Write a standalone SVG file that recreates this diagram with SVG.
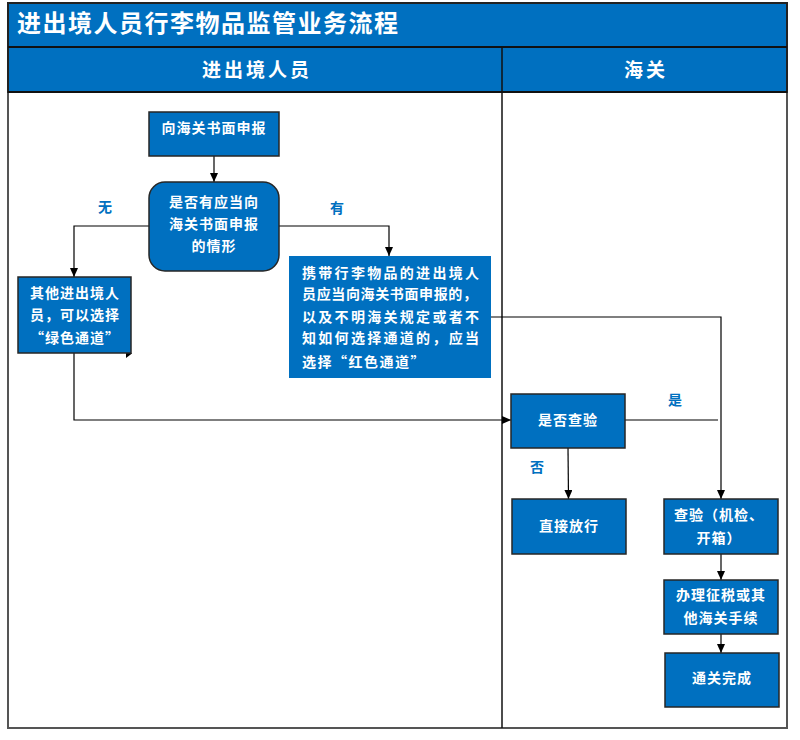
<svg xmlns="http://www.w3.org/2000/svg" width="800" height="740" viewBox="0 0 800 740">
<style>
.box{fill:#0070C0;stroke:#262626;stroke-width:1.5}
.nob{fill:#0070C0;stroke:none}
.t{font-family:"Noto Sans CJK SC","Noto Sans",sans-serif;font-weight:bold;fill:#ffffff;font-size:14px;text-anchor:middle;letter-spacing:1px}
.tl{font-family:"Noto Sans CJK SC","Noto Sans",sans-serif;font-weight:bold;fill:#ffffff;font-size:14px}
.lab{font-family:"Noto Sans CJK SC","Noto Sans",sans-serif;font-weight:bold;fill:#0070C0;font-size:14px;text-anchor:middle}
.ln{fill:none;stroke:#000000;stroke-width:1.2}
.hd{font-family:"Noto Sans CJK SC","Noto Sans",sans-serif;font-weight:bold;fill:#ffffff;font-size:19px;text-anchor:middle;letter-spacing:3px}
</style>
<defs>
<marker id="arr" markerUnits="userSpaceOnUse" markerWidth="10" markerHeight="8" refX="9" refY="4" orient="auto">
<path d="M0,0 L9,4 L0,8 Z" fill="#000000"/>
</marker>
</defs>
<rect x="0" y="0" width="800" height="740" fill="#ffffff"/>
<g id="frame">
<rect x="8" y="3" width="779" height="725" fill="#ffffff" stroke="#555555" stroke-width="2"/>
<rect x="8" y="3" width="779" height="89" fill="#0070C0" stroke="#222222" stroke-width="2"/>
<line x1="8" y1="47" x2="787" y2="47" stroke="#111111" stroke-width="2"/>
<line x1="8" y1="92" x2="787" y2="92" stroke="#111111" stroke-width="2"/>
<line x1="502" y1="47" x2="502" y2="728" stroke="#111111" stroke-width="1.5"/>
<text x="17" y="32" font-family="'Noto Sans CJK SC','Noto Sans',sans-serif" font-weight="bold" font-size="24" fill="#ffffff" letter-spacing="1.5">进出境人员行李物品监管业务流程</text>
<text class="hd" x="257" y="77">进出境人员</text>
<text class="hd" x="646" y="77">海关</text>
</g>
<g id="connectors">
<path class="ln" d="M214,156 L214,182" marker-end="url(#arr)"/>
<path class="ln" d="M149,226 L74,226 L74,277" marker-end="url(#arr)"/>
<path class="ln" d="M279,226 L389,226 L389,256" marker-end="url(#arr)"/>
<path class="ln" d="M74,353 L74,420 L511,420" marker-end="url(#arr)"/>
<path class="ln" d="M491,317 L721,317 L721,499" marker-end="url(#arr)"/>
<path class="ln" d="M625,420 L718,420"/>
<path class="ln" d="M568,448 L568.5,499" marker-end="url(#arr)"/>
<path class="ln" d="M721,554 L721,580" marker-end="url(#arr)"/>
<path class="ln" d="M721,634 L721,653" marker-end="url(#arr)"/>
<path d="M126,349 L132,353.5 L126,358 Z" fill="#000000"/>
<text class="lab" x="105" y="212">无</text>
<text class="lab" x="337" y="213">有</text>
<text class="lab" x="675" y="405">是</text>
<text class="lab" x="537" y="472">否</text>
</g>
<g id="n1">
<rect class="box" x="149" y="112" width="130" height="44"/>
<text class="t" x="214" y="133">向海关书面申报</text>
</g>
<g id="n2">
<rect class="box" x="149" y="182" width="130" height="89" rx="16"/>
<text class="t" x="214" y="207">是否有应当向</text>
<text class="t" x="214" y="229">海关书面申报</text>
<text class="t" x="214" y="251">的情形</text>
</g>
<g id="n3">
<rect class="box" x="18" y="277" width="113" height="76"/>
<text class="t" x="75" y="298">其他进出境人</text>
<text class="t" x="75" y="320">员，可以选择</text>
<text class="t" x="75" y="343">“绿色通道”</text>
</g>
<g id="n4">
<rect class="nob" x="289" y="256" width="202" height="122"/>
<text class="tl" x="302" y="278" textLength="177" lengthAdjust="spacing">携带行李物品的进出境人</text>
<text class="tl" x="302" y="299" textLength="175" lengthAdjust="spacing">员应当向海关书面申报的，</text>
<text class="tl" x="302" y="322" textLength="177" lengthAdjust="spacing">以及不明海关规定或者不</text>
<text class="tl" x="302" y="343" textLength="177" lengthAdjust="spacing">知如何选择通道的，应当</text>
<text class="tl" x="302" y="367" letter-spacing="1.5">选择“红色通道”</text>
</g>
<g id="n5">
<rect class="box" x="511" y="394" width="114" height="54"/>
<text class="t" x="568" y="425">是否查验</text>
</g>
<g id="n6">
<rect class="box" x="512" y="499" width="114" height="55"/>
<text class="t" x="569" y="531">直接放行</text>
</g>
<g id="n7">
<rect class="box" x="664" y="499" width="114" height="55"/>
<text class="t" x="719" y="520">查验（机检、</text>
<text class="t" x="719" y="543">开箱）</text>
</g>
<g id="n8">
<rect class="box" x="664" y="580" width="114" height="54"/>
<text class="t" x="721" y="600">办理征税或其</text>
<text class="t" x="721" y="623">他海关手续</text>
</g>
<g id="n9">
<rect class="box" x="665" y="653" width="114" height="54"/>
<text class="t" x="722" y="683">通关完成</text>
</g>
</svg>
